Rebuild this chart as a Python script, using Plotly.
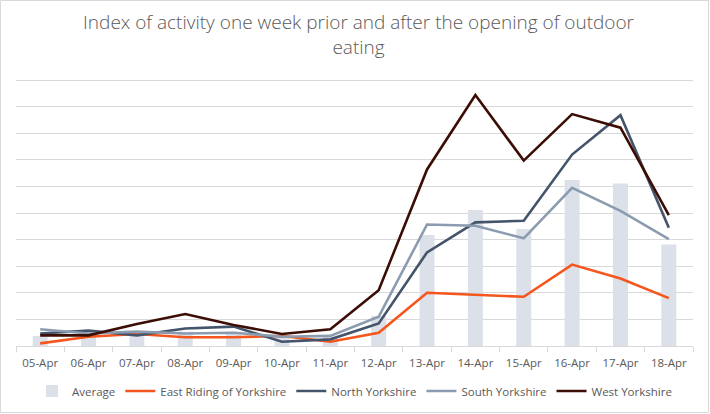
import plotly.graph_objects as go

dates = ["05-Apr", "06-Apr", "07-Apr", "08-Apr", "09-Apr", "10-Apr", "11-Apr",
         "12-Apr", "13-Apr", "14-Apr", "15-Apr", "16-Apr", "17-Apr", "18-Apr"]
average = [0.38, 0.37, 0.45, 0.54, 0.54, 0.30, 0.35, 1.13, 4.17, 5.11, 4.40, 6.24, 6.11, 3.82]
east_riding = [0.10, 0.35, 0.45, 0.33, 0.33, 0.38, 0.16, 0.50, 2.00, 1.92, 1.85, 3.06, 2.54, 1.80]
north_yorks = [0.47, 0.58, 0.40, 0.66, 0.73, 0.16, 0.25, 0.85, 3.52, 4.65, 4.71, 7.20, 8.68, 4.45]
south_yorks = [0.63, 0.47, 0.54, 0.47, 0.50, 0.35, 0.38, 1.10, 4.57, 4.52, 4.05, 5.95, 5.08, 4.02]
west_yorks = [0.40, 0.40, 0.83, 1.20, 0.79, 0.45, 0.63, 2.10, 6.64, 9.44, 6.97, 8.72, 8.21, 4.92]

font_family = "Open Sans"
txt = "#595959"

fig = go.Figure()
fig.add_trace(go.Bar(x=dates, y=average, name="Average",
                     marker=dict(color="#DCE0E9", line=dict(width=0))))
fig.add_trace(go.Scatter(x=dates, y=east_riding, name="East Riding of Yorkshire",
                         mode="lines", line=dict(color="#F4561D", width=2.6)))
fig.add_trace(go.Scatter(x=dates, y=north_yorks, name="North Yorkshire",
                         mode="lines", line=dict(color="#44546A", width=2.6)))
fig.add_trace(go.Scatter(x=dates, y=south_yorks, name="South Yorkshire",
                         mode="lines", line=dict(color="#8B9CB0", width=2.6)))
fig.add_trace(go.Scatter(x=dates, y=west_yorks, name="West Yorkshire",
                         mode="lines", line=dict(color="#3B0D05", width=2.6)))

fig.update_layout(
    width=710, height=414,
    margin=dict(l=16, r=17, t=79, b=68, autoexpand=False),
    paper_bgcolor="white", plot_bgcolor="white",
    font=dict(family=font_family, color=txt, size=11.5),
    title=dict(text="Index of activity one week prior and after the opening of outdoor<br>eating",
               x=0.505, xanchor="center", y=0.93, yanchor="top",
               font=dict(family=font_family, size=19, color=txt, weight=300)),
    bargap=0.69,
    showlegend=True,
    legend=dict(orientation="h", x=0.5, xanchor="center",
                yref="container", y=23/414, yanchor="middle",
                font=dict(size=11.5, color=txt), traceorder="normal", itemwidth=30),
    xaxis=dict(type="category", showgrid=False, showline=True, linecolor="#D9D9D9",
               linewidth=1, ticks="outside", tickson="boundaries", ticklen=5,
               tickcolor="#D9D9D9", tickfont=dict(size=11.5, color=txt),
               ticklabelstandoff=6),
    yaxis=dict(range=[0, 10.04], dtick=1, showgrid=True, gridcolor="#D9D9D9",
               gridwidth=1, showticklabels=False, zeroline=False, showline=False),
    shapes=[dict(type="rect", xref="paper", yref="paper",
                 x0=-15.5/677, x1=692.5/677, y0=-66.5/267, y1=345.5/267,
                 line=dict(color="#D9D9D9", width=1), fillcolor="rgba(0,0,0,0)")],
)

fig.write_html("out.html", config={"displayModeBar": False},
               post_script="document.body.style.margin='0';")
